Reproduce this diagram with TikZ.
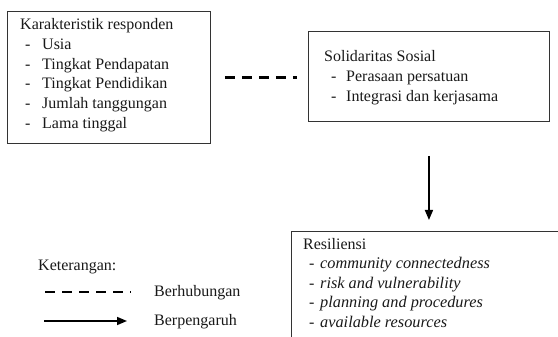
\documentclass[tikz,border=0pt]{standalone}
\usepackage{fontspec}
\setmainfont{Liberation Serif}
\usetikzlibrary{arrows.meta}
\begin{document}
\begin{tikzpicture}[x=1pt,y=-1pt,
  box/.style={draw=black!80,line width=0.9pt,inner sep=0pt,anchor=north west},
  txt/.style={anchor=base west,inner sep=0pt,font=\fontsize{16}{19}\selectfont,text=black!90},
  itx/.style={txt,font=\fontsize{16.3}{19}\selectfont\itshape},
  rel/.style={line width=2.2pt,dash pattern=on 10pt off 7pt},
  infl/.style={line width=1.6pt,-{Triangle[length=10pt,width=8pt]}}]
\useasboundingbox (0,0) rectangle (558,337);
\clip (0,0) rectangle (558,337);
% boxes
\node[box,minimum width=203pt,minimum height=132pt] (k) at (7,11) {};
\node[box,minimum width=241pt,minimum height=90pt] (s) at (308,31) {};
\node[box,draw=none,minimum width=500pt,minimum height=200pt] (r) at (291,231) {};
\draw[draw=black!80,line width=0.9pt] (r.south west) |- (r.north east);
% box 1 text
\node[txt] (k0) at (20,30) {Karakteristik responden};
\node[txt] (k1d) at (25,50) {-};   \node[txt] (k1) at (42,50) {Usia};
\node[txt] (k2d) at (25,69.5) {-}; \node[txt] (k2) at (42,69.5) {Tingkat Pendapatan};
\node[txt] (k3d) at (25,89) {-};   \node[txt] (k3) at (42,89) {Tingkat Pendidikan};
\node[txt] (k4d) at (25,109) {-};  \node[txt] (k4) at (42,109) {Jumlah tanggungan};
\node[txt] (k5d) at (25,129) {-};  \node[txt] (k5) at (42,129) {Lama tinggal};
% box 2 text
\node[txt] (s0) at (324,62) {Solidaritas Sosial};
\node[txt] (s1d) at (331,82) {-};  \node[txt] (s1) at (346,82) {Perasaan persatuan};
\node[txt] (s2d) at (331,102) {-}; \node[txt] (s2) at (346,102) {Integrasi dan kerjasama};
% box 3 text
\node[txt] (r0) at (303,249) {Resiliensi};
\node[txt] (r1d) at (309,268.5) {-}; \node[itx] (r1) at (320,268.5) {community connectedness};
\node[txt] (r2d) at (309,288) {-}; \node[itx] (r2) at (320,288) {risk and vulnerability};
\node[txt] (r3d) at (309,307.5) {-}; \node[itx] (r3) at (320,307.5) {planning and procedures};
\node[txt] (r4d) at (309,327) {-}; \node[itx] (r4) at (320,327) {available resources};
% connectors
\draw[rel,shorten <=14pt,shorten >=11pt] (k.east) -- (k.east -| s.west);
\draw[infl,shorten <=34pt,shorten >=11pt] (s.south) -- (s.south |- r.north);
% legend
\node[txt] (leg) at (38,270) {Keterangan:};
\node[txt] (lh) at (154,296) {Berhubungan};
\node[txt] (lp) at (154,325) {Berpengaruh};
\coordinate (a1) at (45,292);
\coordinate (a2) at (131,292);
\coordinate (b1) at (44,321);
\coordinate (b2) at (127,321);
\draw[rel] (a1) -- (a2);
\draw[infl] (b1) -- (b2);
\end{tikzpicture}
\end{document}
